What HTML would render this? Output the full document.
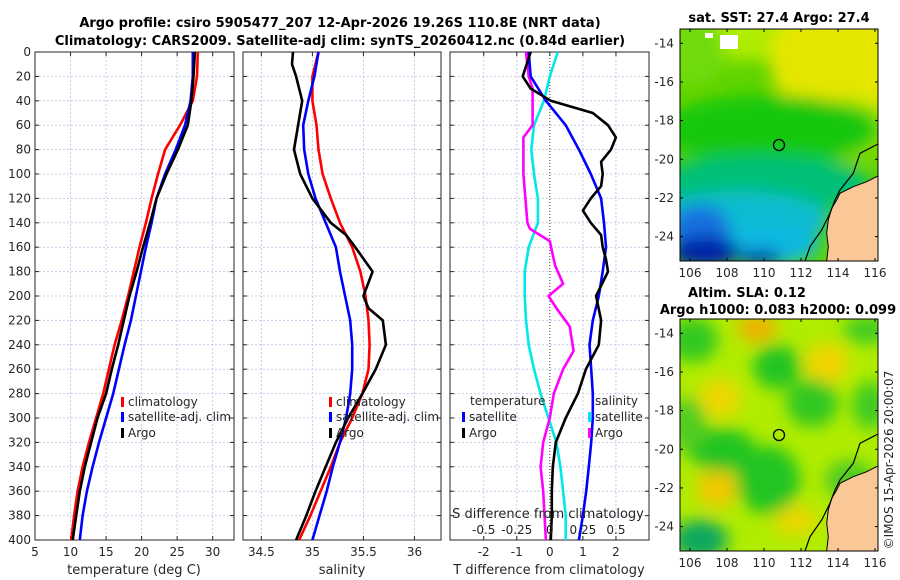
<!DOCTYPE html>
<html><head><meta charset="utf-8"><style>
body{margin:0;background:#fff;}
svg{display:block;font-family:"DejaVu Sans","Liberation Sans",sans-serif;}
.t{font-size:12px;fill:#262626;}
.b{font-size:13px;font-weight:bold;fill:#000;}
</style></head><body>
<svg id="fig" width="900" height="580" viewBox="0 0 900 580">
<defs>
<filter id="bl" x="-30%" y="-30%" width="160%" height="160%"><feGaussianBlur stdDeviation="8"/></filter>
<clipPath id="c1"><rect x="680" y="29" width="198" height="232"/></clipPath>
<clipPath id="c2"><rect x="680" y="319" width="198" height="232"/></clipPath>
</defs>
<text class="b" x="340" y="27" text-anchor="middle">Argo profile: csiro 5905477_207 12-Apr-2026 19.26S 110.8E (NRT data)</text>
<text class="b" x="340" y="45" text-anchor="middle">Climatology: CARS2009. Satellite-adj clim: synTS_20260412.nc (0.84d earlier)</text>
<g id="plots"></g>
<g clip-path="url(#c1)">
<rect x="680" y="29" width="198" height="232" fill="#60d400"/>
<g filter="url(#bl)">
<rect x="650" y="0" width="260" height="60" fill="#b0ec00"/>
<ellipse cx="870" cy="60" rx="100" ry="75" fill="#e4e600"/>
<ellipse cx="690" cy="50" rx="35" ry="35" fill="#70dc10"/>
<ellipse cx="850" cy="130" rx="45" ry="30" fill="#90e000"/>
<ellipse cx="770" cy="130" rx="110" ry="35" fill="#18c810"/>
<ellipse cx="760" cy="185" rx="110" ry="30" fill="#00c078"/>
<ellipse cx="740" cy="220" rx="90" ry="28" fill="#10bcd0"/>
<ellipse cx="770" cy="245" rx="50" ry="20" fill="#10b8e0"/>
<ellipse cx="700" cy="230" rx="30" ry="25" fill="#1470e0"/>
<ellipse cx="705" cy="252" rx="35" ry="16" fill="#0020a8"/>
<ellipse cx="760" cy="258" rx="22" ry="8" fill="#0030b0"/>
</g>
<rect x="720" y="35" width="18" height="14" fill="#fff"/>
<rect x="705" y="33" width="8" height="5" fill="#fff"/>
<polygon points="878,176 866.7,181.7 853.3,186.7 840,193.3 836.7,200 831.7,208.3 828.3,220 826.7,233.3 828.3,246.7 826.7,261 878,261" fill="#f9c896" stroke="#000" stroke-width="1"/>
<polyline points="878,144 860,153.3 853.3,173.3 840,190 835,200 830,213.3 821.7,230 810,246.7 805,261" fill="none" stroke="#000" stroke-width="1.2"/>
<circle cx="779" cy="145" r="5.5" fill="none" stroke="#000" stroke-width="1.3"/>
</g>
<rect x="680" y="29" width="198" height="232" fill="none" stroke="#000" stroke-width="1"/>
<text class="b" x="779" y="22" text-anchor="middle">sat. SST: 27.4 Argo: 27.4</text>

<g clip-path="url(#c2)">
<rect x="680" y="319" width="198" height="232" fill="#b0ec00"/>
<g filter="url(#bl)">
<ellipse cx="757" cy="328" rx="20" ry="14" fill="#f0b000"/>
<ellipse cx="827" cy="363" rx="22" ry="20" fill="#f0d400"/>
<ellipse cx="720" cy="398" rx="22" ry="20" fill="#ecd800"/>
<ellipse cx="717" cy="488" rx="20" ry="20" fill="#f0c800"/>
<ellipse cx="795" cy="520" rx="22" ry="16" fill="#e8d800"/>
<ellipse cx="693" cy="340" rx="25" ry="22" fill="#30c820"/>
<ellipse cx="777" cy="367" rx="24" ry="22" fill="#20c420"/>
<ellipse cx="812" cy="403" rx="26" ry="24" fill="#30c820"/>
<ellipse cx="722" cy="450" rx="34" ry="22" fill="#20c420"/>
<ellipse cx="768" cy="480" rx="32" ry="34" fill="#20c420"/>
<ellipse cx="700" cy="540" rx="28" ry="20" fill="#10a860"/>
<ellipse cx="870" cy="405" rx="18" ry="24" fill="#40cc20"/>
<ellipse cx="867" cy="330" rx="24" ry="14" fill="#40cc20"/>
<ellipse cx="688" cy="425" rx="18" ry="28" fill="#50cc20"/>
<ellipse cx="850" cy="480" rx="25" ry="20" fill="#50cc20"/>
</g>
<polygon points="878,466 866.7,471.7 853.3,476.7 840,483.3 836.7,490 831.7,498.3 828.3,510 826.7,523.3 828.3,536.7 826.7,551 878,551" fill="#f9c896" stroke="#000" stroke-width="1"/>
<polyline points="878,434 860,443.3 853.3,463.3 840,480 835,490 830,503.3 821.7,520 810,536.7 805,551" fill="none" stroke="#000" stroke-width="1.2"/>
<circle cx="779" cy="435" r="5.5" fill="none" stroke="#000" stroke-width="1.3"/>
</g>
<rect x="680" y="319" width="198" height="232" fill="none" stroke="#000" stroke-width="1"/>
<text class="b" x="747" y="297" text-anchor="middle">Altim. SLA: 0.12</text>
<text class="b" x="778" y="314" text-anchor="middle">Argo h1000: 0.083 h2000: 0.099</text>
<text class="t" transform="translate(893,460) rotate(-90)" text-anchor="middle">©IMOS 15-Apr-2026 20:00:07</text>
<g id="maptk"></g>
</svg>
<script>
// ---- data ----
const depthTicks=[0,20,40,60,80,100,120,140,160,180,200,220,240,260,280,300,320,340,360,380,400];
const depth21=[0,20,40,60,80,100,120,140,160,180,200,220,240,260,280,300,320,340,360,380,400];
const tempClim=[27.9,27.8,27.2,25.4,23.3,22.3,21.4,20.6,19.7,18.9,18.1,17.2,16.2,15.4,14.6,13.6,12.6,11.7,11.0,10.5,10.1];
const tempSat=[27.2,27.2,26.9,26.1,24.8,23.3,22.1,21.4,20.6,19.9,19.2,18.5,17.6,16.8,16.0,15.0,14.0,13.1,12.3,11.7,11.3];
const tempArgo=[27.5,27.3,27.0,26.5,25.1,23.5,22.1,21.2,20.2,19.3,18.3,17.5,16.7,15.8,15.0,13.8,12.9,12.0,11.3,10.8,10.3];
const salClim=[35.06,35.0,35.0,35.04,35.06,35.1,35.18,35.27,35.39,35.47,35.52,35.55,35.56,35.55,35.49,35.39,35.27,35.18,35.08,34.98,34.87];
const salSat=[35.06,35.02,34.96,34.91,34.92,34.96,35.03,35.13,35.23,35.27,35.32,35.37,35.39,35.39,35.37,35.33,35.27,35.2,35.14,35.07,35.0];
const argoSalDepth=[0,10,20,40,60,80,100,120,140,150,160,180,200,210,220,240,260,280,300,320,340,360,380,400];
const salArgo=[34.81,34.8,34.84,34.9,34.86,34.82,34.88,35.0,35.18,35.33,35.42,35.59,35.5,35.55,35.69,35.72,35.62,35.49,35.35,35.23,35.13,35.03,34.94,34.84];
const tdiffArgoDepth=[0,20,30,40,50,60,70,80,90,100,110,120,130,140,150,160,170,180,200,220,240,260,280,300,320,340,360,380,400];
const tdiffArgo=[-0.58,-0.82,-0.58,0.03,1.3,1.76,2.0,1.85,1.55,1.6,1.55,1.24,1.0,1.24,1.55,1.6,1.7,1.76,1.4,1.55,1.48,1.09,0.85,0.48,0.18,0.09,0.06,0.06,0.03];
const tdiffSat=[-0.64,-0.58,-0.12,0.48,0.88,1.24,1.55,1.64,1.7,1.6,1.48,1.3,1.2,1.25,1.3,1.3,1.25,1.18,1.1,1.0,0.88];
const sdiffSat=[0.06,0.0,-0.045,-0.12,-0.14,-0.12,-0.09,-0.09,-0.16,-0.19,-0.19,-0.18,-0.16,-0.12,-0.07,-0.01,0.05,0.08,0.1,0.12,0.12];
const sdiffArgoDepth=[0,20,30,60,70,100,140,145,155,175,190,200,210,225,245,260,280,300,320,340,360,380,400];
const sdiffArgo=[-0.18,-0.16,-0.13,-0.13,-0.2,-0.2,-0.17,-0.15,0.0,0.04,0.1,-0.01,0.05,0.15,0.18,0.1,0.03,0.0,-0.05,-0.07,-0.05,-0.04,-0.03];
const tTicks=[5,10,15,20,25,30];
const sTicks=[34.5,35,35.5,36];
const dTicks=[-2,-1,0,1,2];
const sdTicks=[-0.5,-0.25,0,0.25,0.5];
const sdTickLabels=["-0.5","-0.25","0","0.25","0.5"];
const lonTicks=[106,108,110,112,114,116];
const latTicks=[-14,-16,-18,-20,-22,-24];

const NS="http://www.w3.org/2000/svg";
const g=document.getElementById('plots');
function mk(tag,attrs,parent){const e=document.createElementNS(NS,tag);for(const k in attrs)e.setAttribute(k,attrs[k]);(parent||g).appendChild(e);return e;}
const Y0=52,Y1=540;
const yScale=d=>Y0+(d/400)*(Y1-Y0);
const panels=[
 {x0:35,x1:234,min:5,max:33,ticks:tTicks,name:'temperature-panel'},
 {x0:243,x1:441,min:34.32,max:36.26,ticks:sTicks,name:'salinity-panel'},
 {x0:450,x1:649,min:-3.02,max:3.0,ticks:dTicks,name:'difference-panel'}];
function xs(p,v){return p.x0+(v-p.min)/(p.max-p.min)*(p.x1-p.x0);}
panels.forEach((p,i)=>{
 const pg=mk('g',{});
 
 
 depthTicks.forEach(d=>{if(d>0&&d<400){const l=mk('line',{x1:p.x0,x2:p.x1,y1:yScale(d),y2:yScale(d),stroke:'#c4cbe6','stroke-dasharray':'2,2','stroke-width':1},pg);}
  mk('line',{x1:p.x0,x2:p.x0+4,y1:yScale(d),y2:yScale(d),stroke:'#262626'},pg);
  mk('line',{x1:p.x1,x2:p.x1-4,y1:yScale(d),y2:yScale(d),stroke:'#262626'},pg);
  if(i===0){const t=mk('text',{x:p.x0-4,y:yScale(d)+4,'text-anchor':'end',class:'t'},pg);t.textContent=d;}
 });
 p.ticks.forEach((v,k)=>{const x=xs(p,v);
  const zero=(i===2&&v===0);
  const l=mk('line',{x1:x,x2:x,y1:Y0,y2:Y1,stroke:zero?'#333':'#c4cbe6','stroke-dasharray':zero?'1,2':'2,2','stroke-width':1},pg);
  
  mk('line',{x1:x,x2:x,y1:Y1,y2:Y1-4,stroke:'#262626'},pg);
  mk('line',{x1:x,x2:x,y1:Y0,y2:Y0+4,stroke:'#262626'},pg);
  const t=mk('text',{x:x,y:556,'text-anchor':'middle',class:'t'},pg);t.textContent=v;
  
 });
 mk('rect',{x:p.x0,y:Y0,width:p.x1-p.x0,height:Y1-Y0,fill:'none',stroke:'#262626','stroke-width':1},pg);
});
function series(p,vals,deps,color,name,scaleF){
 const pts=vals.map((v,k)=>xs(p,scaleF?scaleF(v):v).toFixed(1)+','+yScale(deps[k]).toFixed(1)).join(' ');
 const l=mk('polyline',{points:pts,fill:'none',stroke:color,'stroke-width':2.6,'stroke-linejoin':'round'});
 
 
}
const P=panels;
series(P[0],tempClim,depth21,'#f00','temp-climatology-line');
series(P[0],tempSat,depth21,'#00f','temp-satellite-line');
series(P[0],tempArgo,depth21,'#000','temp-argo-line');
series(P[1],salClim,depth21,'#f00','sal-climatology-line');
series(P[1],salSat,depth21,'#00f','sal-satellite-line');
series(P[1],salArgo,argoSalDepth,'#000','sal-argo-line');
const s4=v=>v*4;
series(P[2],sdiffSat,depth21,'#00e8e8','sdiff-satellite-line',s4);
series(P[2],sdiffArgo,sdiffArgoDepth,'#f0f','sdiff-argo-line',s4);
series(P[2],tdiffSat,depth21,'#00f','tdiff-satellite-line');
series(P[2],tdiffArgo,tdiffArgoDepth,'#000','tdiff-argo-line');
sdTicks.forEach((v,k)=>{const t=mk('text',{x:xs(P[2],v*4),y:534,'text-anchor':'middle',class:'t'});t.textContent=sdTickLabels[k];
 });
function txt(x,y,s,name,anchor,extra){const t=mk('text',Object.assign({x:x,y:y,class:'t','text-anchor':anchor||'start'},extra||{}));t.textContent=s;return t;}
txt(548,518,'S difference from climatology','sdiff-axis-title','middle',{style:'font-size:13px'});
txt(134,574,'temperature (deg C)','x-axis-title-temperature','middle',{style:'font-size:13px'});
txt(342,574,'salinity','x-axis-title-salinity','middle',{style:'font-size:13px'});
txt(549,574,'T difference from climatology','x-axis-title-tdiff','middle',{style:'font-size:13px'});
function leg(x,y,color,label,name){const r=mk('rect',{x:x,y:y-9,width:3,height:10,fill:color});txt(x+7,y,label,name);}
leg(121,406,'#f00','climatology','legend-climatology');
leg(121,421,'#00f','satellite-adj. clim','legend-satellite');
leg(121,437,'#000','Argo','legend-argo');
leg(329,406,'#f00','climatology','legend-sal-climatology');
leg(329,421,'#00f','satellite-adj. clim','legend-sal-satellite');
leg(329,437,'#000','Argo','legend-sal-argo');
txt(470,405,'temperature','legend-temperature-header');
leg(462,421,'#00f','satellite','legend-tdiff-satellite');
leg(462,437,'#000','Argo','legend-tdiff-argo');
txt(595,405,'salinity','legend-salinity-header');
leg(588,421,'#00e8e8','satellite','legend-sdiff-satellite');
leg(588,437,'#f0f','Argo','legend-sdiff-argo');
const mg=document.getElementById('maptk');
const lonX=lon=>690+(lon-106)*18.5;
[[29,261,43.3],[319,551,333.3]].forEach((m,mi)=>{
 lonTicks.forEach(lo=>{const x=lonX(lo);
  mk('line',{x1:x,x2:x,y1:m[1],y2:m[1]-3,stroke:'#000'},mg);mk('line',{x1:x,x2:x,y1:m[0],y2:m[0]+3,stroke:'#000'},mg);
  const t=mk('text',{x:x,y:m[1]+16,'text-anchor':'middle',class:'t'},mg);t.textContent=lo;
  });
 latTicks.forEach(la=>{const y=m[2]+(-14-la)*19.33;
  mk('line',{x1:680,x2:683,y1:y,y2:y,stroke:'#000'},mg);mk('line',{x1:878,x2:875,y1:y,y2:y,stroke:'#000'},mg);
  const t=mk('text',{x:674,y:y+4,'text-anchor':'end',class:'t'},mg);t.textContent=la;
  });
});
</script>
</body></html>
